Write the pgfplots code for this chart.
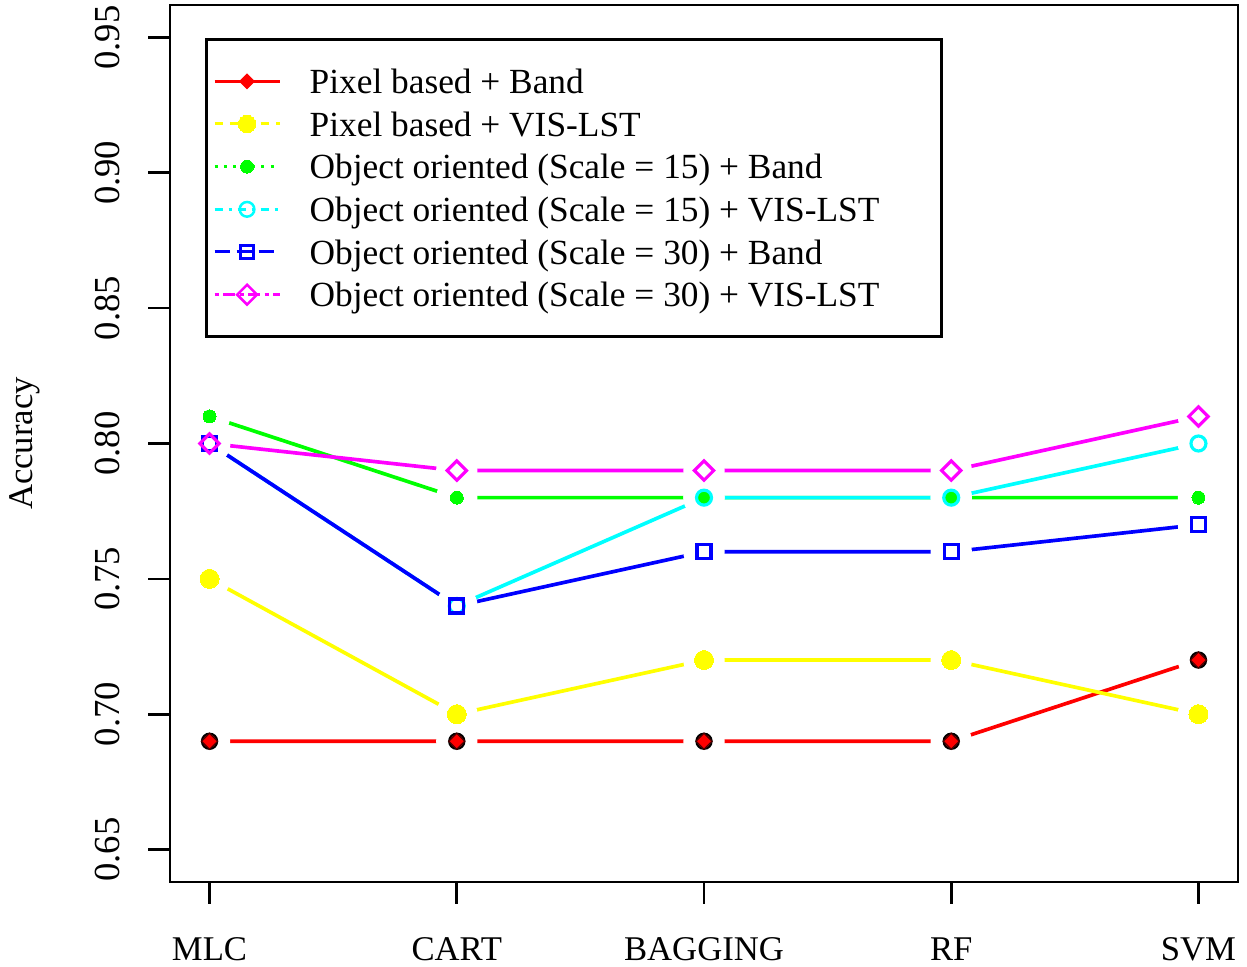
\documentclass[border=0pt]{standalone}
\usepackage{pgfplots}
\pgfplotsset{compat=1.18}
\usepackage{pgfplotstable}
\usepackage{fontspec}
\setmainfont{Liberation Serif}
\definecolor{cR}{rgb}{1,0,0}
\definecolor{cY}{rgb}{1,1,0}
\definecolor{cG}{rgb}{0,1,0}
\definecolor{cC}{rgb}{0,1,1}
\definecolor{cB}{rgb}{0,0,1}
\definecolor{cM}{rgb}{1,0,1}
\pgfplotstableread{
x pb pv ob15 ov15 ob30 ov30
0 0.69 0.75 0.81 0.80 0.80 0.80
1 0.69 0.70 0.78 0.74 0.74 0.79
2 0.69 0.72 0.78 0.78 0.76 0.79
3 0.69 0.72 0.78 0.78 0.76 0.79
4 0.72 0.70 0.78 0.80 0.77 0.81
}\acc
\newcommand{\lf}{\fontsize{10.4}{12}\selectfont}
\newcommand{\legf}{\fontsize{10.6}{12}\selectfont}
\begin{document}
\begin{tikzpicture}
\begin{axis}[
  at={(0pt,0pt)}, anchor=south west,
  scale only axis, width=320.4pt, height=263.1pt,
  xmin=-0.16, xmax=4.16, ymin=0.638, ymax=0.962,
  xtick={0,1,2,3,4}, xticklabels={MLC,CART,BAGGING,RF,SVM},
  ytick={0.65,0.70,0.75,0.80,0.85,0.90,0.95},
  yticklabel style={/pgf/number format/fixed, /pgf/number format/fixed zerofill, /pgf/number format/precision=2, /pgf/number format/assume math mode=true,
    rotate=90, anchor=south, inner ysep=8.4pt, font=\fontsize{11}{12}\selectfont},
  xticklabel style={anchor=north, inner ysep=9.9pt, font=\lf},
  xtick pos=bottom, ytick pos=left,
  tick align=outside, major tick length=6.5pt,
  every tick/.style={black, line width=0.8pt},
  axis line style={line width=0.8pt},
  ylabel={Accuracy},
  ylabel style={at={(axis description cs:-0.1358,0.5)}, anchor=center, font=\lf},
  legend cell align=left,
  legend style={at={(axis description cs:0.0328,0.9624)}, anchor=north west,
    draw=black, line width=0.8pt, inner xsep=2pt, inner ysep=6.2pt, font=\legf,
    column sep=8.6pt, row sep=0pt,
    nodes={inner xsep=0pt, inner ysep=1.5pt, text height=8.6pt, text depth=1.2pt}},
]
% lines
\addplot[cR, line width=1.1pt, forget plot] table[x=x,y=pb]{\acc};
\addplot[cY, line width=1.1pt, forget plot] table[x=x,y=pv]{\acc};
\addplot[cG, line width=1.1pt, forget plot] table[x=x,y=ob15]{\acc};
\addplot[cC, line width=1.1pt, forget plot] table[x=x,y=ov15]{\acc};
\addplot[cB, line width=1.1pt, forget plot] table[x=x,y=ob30]{\acc};
\addplot[cM, line width=1.1pt, forget plot] table[x=x,y=ov30]{\acc};
% gaps around points
\addplot[only marks, mark=*, mark size=6pt, mark options={fill=white, draw=white}, forget plot] table[x=x,y=pb]{\acc};
\addplot[only marks, mark=*, mark size=6pt, mark options={fill=white, draw=white}, forget plot] table[x=x,y=pv]{\acc};
\addplot[only marks, mark=*, mark size=6pt, mark options={fill=white, draw=white}, forget plot] table[x=x,y=ob15]{\acc};
\addplot[only marks, mark=*, mark size=6pt, mark options={fill=white, draw=white}, forget plot] table[x=x,y=ov15]{\acc};
\addplot[only marks, mark=*, mark size=6pt, mark options={fill=white, draw=white}, forget plot] table[x=x,y=ob30]{\acc};
\addplot[only marks, mark=*, mark size=6pt, mark options={fill=white, draw=white}, forget plot] table[x=x,y=ov30]{\acc};
% markers
\addplot[only marks, mark=*, mark size=2.3pt, mark options={fill=cR, draw=black, line width=0.6pt}, forget plot] table[x=x,y=pb]{\acc};
\addplot[only marks, mark=square*, mark size=1.7pt, mark options={rotate=45, fill=cR, draw=black!70!cR, line width=0.35pt}, forget plot] table[x=x,y=pb]{\acc};
\addplot[only marks, mark=*, mark size=2.85pt, mark options={fill=cY, draw=cY, line width=0pt}, forget plot] table[x=x,y=pv]{\acc};
\addplot[only marks, mark=*, mark size=1.95pt, mark options={fill=cG, draw=cG, line width=0pt}, forget plot] table[x=x,y=ob15]{\acc};
\addplot[only marks, mark=o, mark size=2.25pt, mark options={draw=cC, line width=0.95pt}, forget plot] table[x=x,y=ov15]{\acc};
\addplot[only marks, mark=square, mark size=2.1pt, mark options={draw=cB, line width=0.95pt}, forget plot] table[x=x,y=ob30]{\acc};
\addplot[only marks, mark=square, mark size=2.05pt, mark options={rotate=45, draw=cM, line width=0.95pt}, forget plot] table[x=x,y=ov30]{\acc};
% legend
\addlegendimage{legend image code/.code={
  \draw[cR, line width=0.9pt] (0pt,0pt) -- (19.5pt,0pt);
  \draw[cR] plot[mark=square*, mark size=1.55pt, mark options={rotate=45, fill=cR, draw=cR, line width=0.3pt}] coordinates {(9.75pt,0pt)};}}
\addlegendentry{\makebox[187.5pt][l]{Pixel based + Band}}
\addlegendimage{legend image code/.code={
  \draw[cY, line width=0.9pt, dash pattern=on 2.4pt off 2.2pt] (0pt,0pt) -- (19.5pt,0pt);
  \draw[cY] plot[mark=*, mark size=2.6pt, mark options={fill=cY, draw=cY, line width=0pt}] coordinates {(9.75pt,0pt)};}}
\addlegendentry{Pixel based + VIS-LST}
\addlegendimage{legend image code/.code={
  \draw[cG, line width=0.9pt, dash pattern=on 0.9pt off 1.9pt] (0pt,0pt) -- (19.5pt,0pt);
  \draw[cG] plot[mark=*, mark size=1.95pt, mark options={fill=cG, draw=cG, line width=0pt}] coordinates {(9.75pt,0pt)};}}
\addlegendentry{Object oriented (Scale = 15) + Band}
\addlegendimage{legend image code/.code={
  \draw[cC, line width=0.9pt, dash pattern=on 2.4pt off 1.8pt on 0.9pt off 1.8pt] (0pt,0pt) -- (19.5pt,0pt);
  \draw[cC] plot[mark=o, mark size=2.2pt, mark options={draw=cC, line width=0.75pt}] coordinates {(9.75pt,0pt)};}}
\addlegendentry{Object oriented (Scale = 15) + VIS-LST}
\addlegendimage{legend image code/.code={
  \draw[cB, line width=0.9pt, dash pattern=on 4.6pt off 2pt] (0pt,0pt) -- (19.5pt,0pt);
  \draw[cB] plot[mark=square, mark size=2.0pt, mark options={draw=cB, line width=0.75pt}] coordinates {(9.75pt,0pt)};}}
\addlegendentry{Object oriented (Scale = 30) + Band}
\addlegendimage{legend image code/.code={
  \draw[cM, line width=0.9pt, dash pattern=on 1.3pt off 1.3pt on 3.6pt off 1.3pt] (0pt,0pt) -- (19.5pt,0pt);
  \draw[cM] plot[mark=square, mark size=2.1pt, mark options={rotate=45, draw=cM, line width=0.75pt}] coordinates {(9.75pt,0pt)};}}
\addlegendentry{Object oriented (Scale = 30) + VIS-LST}
\end{axis}
\pgfresetboundingbox
\useasboundingbox (-51pt,-25.2pt) rectangle (323.1pt,264.6pt);
\end{tikzpicture}
\end{document}
